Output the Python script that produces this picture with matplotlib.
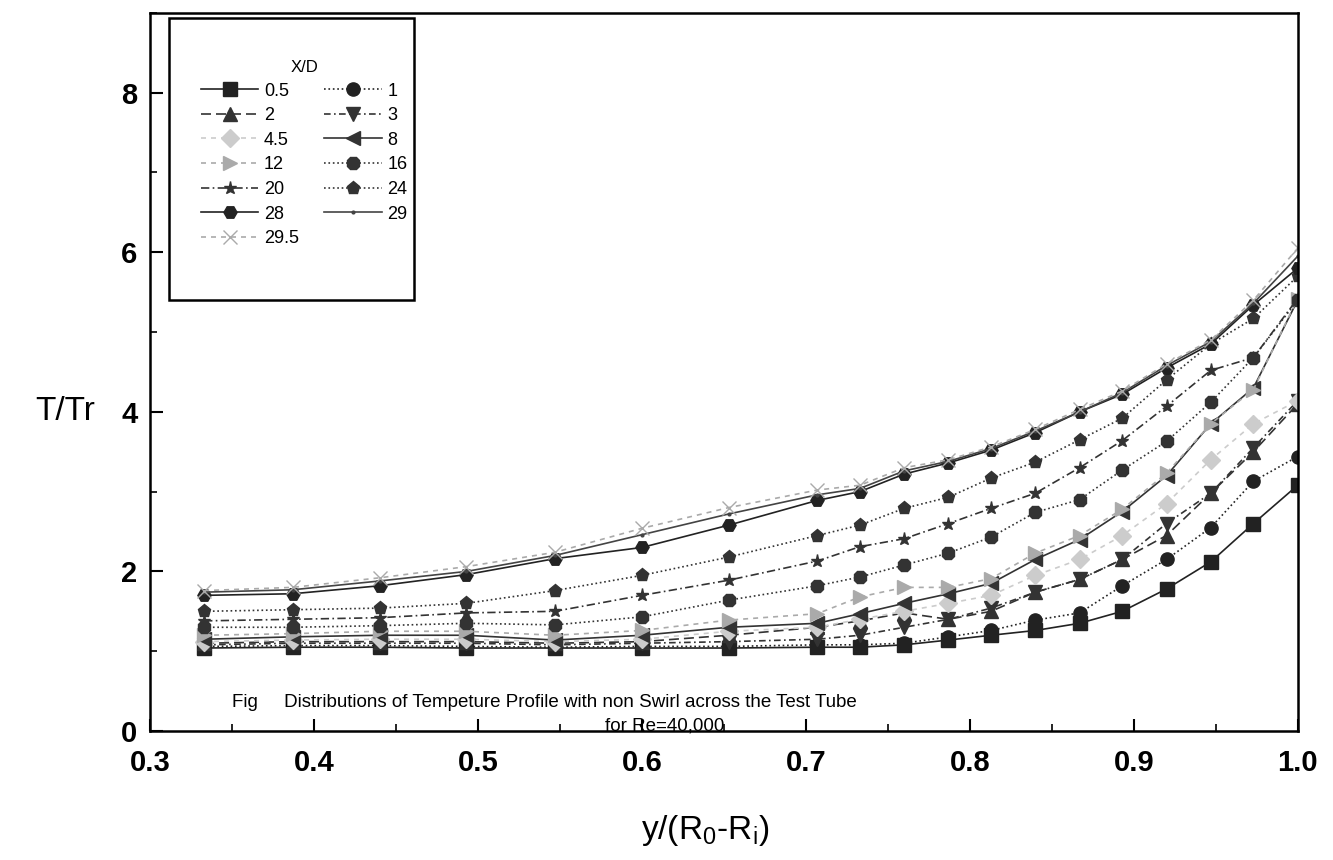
import matplotlib.pyplot as plt
from matplotlib.patches import Rectangle
from matplotlib.ticker import MultipleLocator

plt.rcParams['font.family'] = ['Liberation Sans', 'DejaVu Sans']

# y/(R0-Ri) 측정 위치
x = [0.333, 0.387, 0.440, 0.493, 0.547, 0.600, 0.653, 0.707, 0.733, 0.760,
     0.787, 0.813, 0.840, 0.867, 0.893, 0.920, 0.947, 0.973, 1.000]

# X/D 별 T/Tr 값
t_05 = [1.04, 1.05, 1.05, 1.04, 1.04, 1.04, 1.04, 1.05, 1.05, 1.08,
        1.14, 1.20, 1.26, 1.35, 1.50, 1.78, 2.12, 2.60, 3.08]
t_1 = [1.06, 1.07, 1.07, 1.06, 1.05, 1.06, 1.06, 1.08, 1.08, 1.10,
       1.18, 1.26, 1.39, 1.48, 1.82, 2.15, 2.55, 3.13, 3.44]
t_2 = [1.10, 1.12, 1.12, 1.12, 1.10, 1.12, 1.20, 1.30, 1.38, 1.48,
       1.40, 1.50, 1.74, 1.90, 2.15, 2.45, 2.98, 3.50, 4.10]
t_3 = [1.08, 1.10, 1.10, 1.10, 1.08, 1.10, 1.12, 1.15, 1.20, 1.30,
       1.40, 1.54, 1.74, 1.90, 2.15, 2.60, 2.98, 3.55, 4.14]
t_45 = [1.12, 1.14, 1.15, 1.15, 1.12, 1.15, 1.25, 1.30, 1.40, 1.50,
        1.60, 1.70, 1.95, 2.15, 2.45, 2.85, 3.40, 3.85, 4.14]
t_8 = [1.15, 1.18, 1.20, 1.20, 1.14, 1.20, 1.30, 1.35, 1.47, 1.60,
       1.72, 1.85, 2.15, 2.40, 2.75, 3.20, 3.85, 4.30, 5.40]
t_12 = [1.20, 1.22, 1.25, 1.25, 1.20, 1.26, 1.39, 1.47, 1.68, 1.80,
        1.80, 1.91, 2.23, 2.45, 2.78, 3.23, 3.85, 4.28, 5.42]
t_16 = [1.30, 1.30, 1.32, 1.35, 1.33, 1.43, 1.64, 1.82, 1.93, 2.08,
        2.23, 2.43, 2.74, 2.90, 3.27, 3.63, 4.12, 4.68, 5.40]
t_20 = [1.38, 1.40, 1.42, 1.48, 1.50, 1.70, 1.89, 2.13, 2.31, 2.41,
        2.60, 2.79, 2.98, 3.30, 3.64, 4.07, 4.52, 4.68, 5.42]
t_24 = [1.50, 1.52, 1.54, 1.60, 1.76, 1.95, 2.18, 2.45, 2.58, 2.79,
        2.93, 3.17, 3.37, 3.65, 3.92, 4.40, 4.85, 5.17, 5.70]
t_28 = [1.70, 1.72, 1.82, 1.96, 2.16, 2.30, 2.58, 2.89, 3.00, 3.22,
        3.36, 3.52, 3.74, 4.00, 4.22, 4.55, 4.85, 5.34, 5.80]
t_29 = [1.74, 1.77, 1.88, 2.00, 2.20, 2.46, 2.72, 2.96, 3.04, 3.26,
        3.38, 3.54, 3.76, 4.00, 4.24, 4.58, 4.88, 5.36, 5.95]
t_295 = [1.76, 1.80, 1.92, 2.06, 2.24, 2.54, 2.80, 3.02, 3.08, 3.30,
         3.40, 3.56, 3.78, 4.03, 4.26, 4.60, 4.90, 5.40, 6.05]

# (라벨, 값, 마커, 선 스타일, 색)
series = [
    ('0.5', t_05, 's', '-', '#222222'),
    ('1', t_1, 'o', ':', '#222222'),
    ('2', t_2, '^', (0, (6, 3)), '#333333'),
    ('3', t_3, 'v', (0, (4, 2, 1, 2)), '#333333'),
    ('4.5', t_45, 'D', (0, (3, 3)), '#cccccc'),
    ('8', t_8, '<', '-', '#333333'),
    ('12', t_12, '>', (0, (3, 3)), '#aaaaaa'),
    ('16', t_16, '8', ':', '#333333'),
    ('20', t_20, '*', (0, (5, 2, 1, 2)), '#333333'),
    ('24', t_24, 'p', ':', '#333333'),
    ('28', t_28, 'H', '-', '#222222'),
    ('29', t_29, '.', '-', '#444444'),
    ('29.5', t_295, 'x', (0, (3, 3)), '#aaaaaa'),
]

fig = plt.figure(figsize=(13.33, 8.6), dpi=100)
ax = fig.add_axes([0.1125, 0.15, 0.861, 0.835])

handles = {}
for label, y, m, ls, c in series:
    ms = 4 if m == '.' else 9.5
    h, = ax.plot(x, y, marker=m, linestyle=ls, color=c, lw=1.2,
                 markersize=ms, markeredgecolor=c, markerfacecolor=c)
    handles[label] = h

ax.set_xlim(0.3, 1.0)
ax.set_ylim(0, 9)
ax.xaxis.set_major_locator(MultipleLocator(0.1))
ax.xaxis.set_minor_locator(MultipleLocator(0.05))
ax.set_yticks([0, 2, 4, 6, 8])
ax.yaxis.set_minor_locator(MultipleLocator(1))
ax.xaxis.set_major_formatter(plt.FormatStrFormatter('%.1f'))
ax.tick_params(which='both', direction='in', top=False, right=False)
ax.tick_params(which='major', length=9, width=1.5, labelsize=21)
ax.tick_params(axis='x', which='major', pad=13)
ax.tick_params(axis='y', which='major', pad=9)
ax.tick_params(which='minor', length=5, width=1.2)
for lab in ax.get_xticklabels() + ax.get_yticklabels():
    lab.set_fontweight('bold')
for sp in ax.spines.values():
    sp.set_linewidth(1.8)

fig.text(65 / 1333, 1 - 412 / 860, 'T/Tr', fontsize=24, ha='center', va='center')
fig.text(705 / 1333, 1 - 830 / 860, r'y/(R$_\mathregular{0}$-R$_\mathregular{i}$)',
         fontsize=24, ha='center', va='center')

ax.text(0.35, 0.36, 'Fig     Distributions of Tempeture Profile with non Swirl across the Test Tube',
        fontsize=13.5, ha='left', va='center')
ax.text(0.614, 0.06, 'for Re=40,000', fontsize=13.5, ha='center', va='center')

# 범례 (행 우선 순서)
order = ['0.5', '2', '4.5', '12', '20', '28', '29.5', '1', '3', '8', '16', '24', '29']
leg = ax.legend([handles[k] for k in order], order, title='X/D', ncol=2,
                loc='upper left', bbox_to_anchor=(0.03, 0.957), frameon=False,
                fontsize=13, title_fontsize=12, handlelength=3.2,
                columnspacing=1.4, labelspacing=0.42, handletextpad=0.3)
ax.add_patch(Rectangle((0.017, 0.60), 0.213, 0.393, transform=ax.transAxes,
                       fill=False, lw=1.8, color='black', zorder=5))

fig.savefig('out.png', dpi=100)
